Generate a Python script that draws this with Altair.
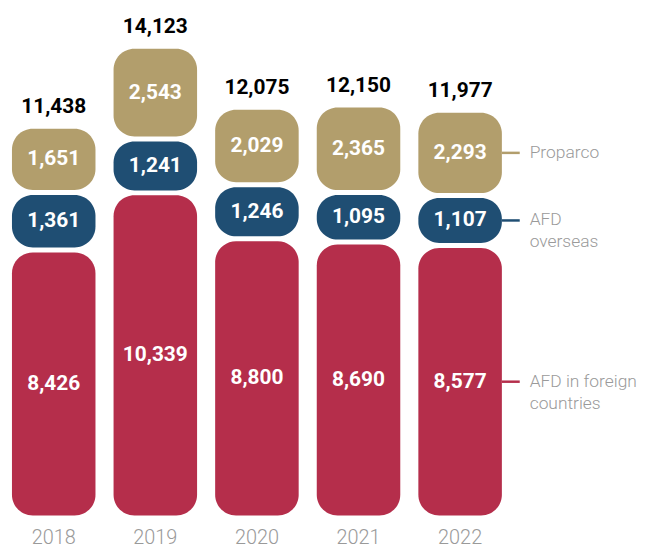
import altair as alt
import pandas as pd

years = ["2018", "2019", "2020", "2021", "2022"]
afd_foreign = [8426, 10339, 8800, 8690, 8577]
afd_overseas = [1361, 1241, 1246, 1095, 1107]
proparco = [1651, 2543, 2029, 2365, 2293]
totals = [11438, 14123, 12075, 12150, 11977]
series = ["AFD in foreign countries", "AFD overseas", "Proparco"]
legend_labels = ["AFD in foreign\ncountries", "AFD\noverseas", "Proparco"]
colors = ["#B52E4B", "#1F4E73", "#B29E6C"]

rows = []
for i, yr in enumerate(years):
    for j, (s, vals) in enumerate(zip(series, [afd_foreign, afd_overseas, proparco])):
        rows.append({"year": yr, "series": s, "order": j, "value": vals[i],
                     "total": totals[i], "legend": legend_labels[j]})
df = pd.DataFrame(rows)

PAD = 567   # extra room per segment (data units), includes gap
GAP = 167   # white gap between segments (data units)

base = (
    alt.Chart(df)
    .transform_calculate(block=f"datum.value + {PAD}")
    .transform_window(cum="sum(block)", groupby=["year"], sort=[alt.SortField("order")])
    .transform_calculate(
        y0="datum.cum - datum.block",
        y1=f"datum.cum - {GAP}",
        ymid=f"(2*datum.cum - datum.block - {GAP}) / 2",
    )
)

x = alt.X(
    "year:N",
    sort=years,
    title="",
    scale=alt.Scale(paddingInner=0.178, paddingOuter=0.039),
    axis=alt.Axis(domain=False, ticks=False, labelAngle=0, labelFont="Roboto",
                  labelFontSize=20, labelFontWeight=300, labelColor="#9A9A9A",
                  labelPadding=12),
)
yscale = alt.Scale(domain=[0, 16967], nice=False)

bars = base.mark_bar(cornerRadius=21).encode(
    x=x,
    y=alt.Y("y0:Q", scale=yscale, axis=None),
    y2="y1:Q",
    color=alt.Color("series:N", scale=alt.Scale(domain=series, range=colors), legend=None),
)

seg_labels = base.mark_text(color="white", font="Roboto", fontWeight="bold",
                            fontSize=21, baseline="middle").encode(
    x=x,
    y=alt.Y("ymid:Q", scale=yscale, axis=None),
    text=alt.Text("value:Q", format=","),
)

total_labels = base.transform_filter("datum.order == 2").mark_text(
    color="black", font="Roboto", fontWeight="bold", fontSize=21,
    baseline="alphabetic", dy=-16,
).encode(
    x=x,
    y=alt.Y("y1:Q", scale=yscale, axis=None),
    text=alt.Text("total:Q", format=","),
)

last = base.transform_filter("datum.year == '2022'")

legend_ticks = last.mark_rule(strokeWidth=2.5, xOffset=42, x2Offset=60).encode(
    x=x,
    x2="year:N",
    y=alt.Y("ymid:Q", scale=yscale, axis=None),
    color=alt.Color("series:N", scale=alt.Scale(domain=series, range=colors), legend=None),
)

legend_text = last.mark_text(
    align="left", baseline="middle", xOffset=70, lineBreak="\n", lineHeight=22,
    font="Roboto", fontSize=17.5, fontWeight=300, color="#9A9A9A",
).encode(
    x=x,
    y=alt.Y("ymid:Q", scale=yscale, axis=None),
    text="legend:N",
)

chart = (
    alt.layer(bars, seg_labels, total_labels, legend_ticks, legend_text)
    .properties(width=501, height=509, padding=0)
    .configure_view(strokeWidth=0)
)

chart.save("out.html", embed_options={"renderer": "svg", "actions": False})
